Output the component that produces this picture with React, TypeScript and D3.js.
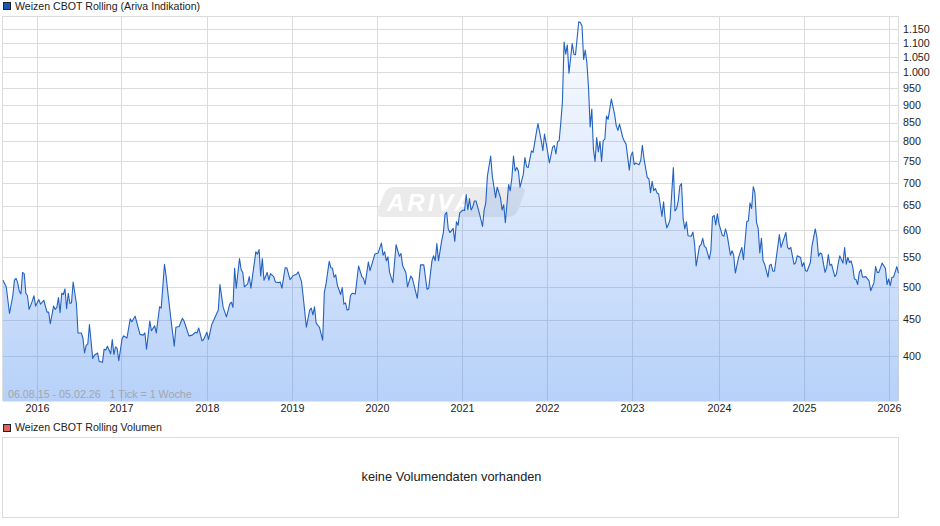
import React from "react";
import * as d3 from "d3";

// [week since 06.08.15, price]
const seg2015to2017: [number, number][] = [[0,511],[2,500],[4,459],[6,486],[7,511],[8,514],[9,507],[10,493],[11,489],[12,524],[13,522],[14,490],[15,486],[16,465],[18,478],[19,486],[20,470],[22,480],[23,473],[25,479],[27,461],[28,461],[29,444],[31,470],[32,465],[33,468],[34,483],[35,460],[36,490],[37,488],[38,497],[39,466],[40,490],[41,474],[42,475],[43,508],[45,474],[46,431],[48,431],[49,424],[50,404],[51,414],[52,416],[53,443],[55,397],[56,401],[58,404],[59,393],[61,392],[62,409],[63,408],[64,413],[66,403],[67,422],[68,402],[69,412],[70,410],[71,394],[73,423],[74,427],[76,424],[78,451],[79,447],[81,455],[84,429],[86,428],[87,431],[88,409],[90,448],[91,434],[93,441],[94,431],[96,469],[97,467],[99,538],[100,518],[101,493],[103,450],[105,413],[106,439],[108,440],[110,452],[111,448],[114,427],[116,428],[118,432],[119,431],[120,438],[122,420],[123,422],[125,432],[126,422],[128,443]];
const seg2018to2019: [number, number][] = [[132,464],[133,504],[135,468],[137,454],[139,473],[140,476],[141,468],[142,531],[143,498],[145,548],[146,529],[147,524],[148,500],[150,505],[151,517],[152,498],[155,560],[156,556],[157,564],[158,518],[159,548],[160,511],[162,524],[163,511],[164,522],[166,517],[167,508],[169,507],[170,508],[171,498],[173,532],[174,532],[176,512],[178,519],[180,521],[181,525],[183,509],[184,486],[186,439],[188,464],[189,467],[190,457],[191,469],[192,445],[194,439],[195,430],[196,421]];
const seg2019to2021: [number, number][] = [[197,491],[198,504],[200,543],[201,532],[202,531],[203,516],[204,520],[205,503],[207,488],[208,499],[209,473],[210,475],[211,464],[212,465],[213,486],[214,490],[216,489],[218,535],[220,517],[221,514],[222,504],[224,542],[225,527],[228,556],[230,558],[232,576],[233,554],[234,560],[235,544],[236,551],[237,524],[239,507],[241,573],[243,552],[244,557],[245,536],[247,524],[248,500],[250,518],[251,514],[254,482],[256,537],[258,537],[260,496],[261,498],[263,544],[264,553],[265,544],[266,575],[267,544],[269,581],[270,596],[271,632],[272,636],[273,603],[274,596],[276,604],[277,579],[278,617],[279,610],[280,635],[282,641],[283,640],[284,674],[285,641],[286,665],[287,641],[288,647],[289,660],[290,660],[292,635],[293,622],[294,608],[295,641],[296,656],[297,715],[299,763],[300,715],[302,667],[303,690],[305,667],[306,641],[307,652],[308,615],[310,696],[311,682],[312,711],[313,763],[314,727],[315,735],[316,727],[317,690],[319,719],[320,759],[321,737],[322,735],[324,776],[325,772],[327,823],[328,847],[330,802],[331,776],[332,819],[334,772],[335,746],[337,785],[338,789],[339,768],[340,799],[341,802]];
const seg2022to2023: [number, number][] = [[342,850],[343,910],[344,1102],[345,1060],[346,1092],[347,997],[349,1097],[350,1060],[351,1058],[353,1177],[354,1174],[355,1160],[356,1042],[357,1074],[358,1030],[359,950],[360,838],[361,888],[362,780],[363,750],[364,810],[365,773],[366,800],[367,750],[368,802],[369,806],[370,868],[371,859],[373,917],[375,872],[376,841],[377,829],[378,846],[380,810],[381,800],[382,793],[384,729],[385,764],[386,773],[387,742],[388,746],[390,742],[391,752],[392,790],[393,756],[395,712],[396,709],[397,678],[398,703],[399,682],[400,687],[401,677],[402,675],[404,628],[405,658],[406,622],[407,605],[408,612],[409,622],[411,735],[412,639],[413,644],[414,660],[415,693],[416,698],[417,624],[418,603],[419,617],[420,590],[422,589],[423,597],[424,575],[425,535]];
const seg2024to2026: [number, number][] = [[427,570],[428,573],[429,585],[430,570],[431,568],[433,547],[434,562],[435,627],[436,630],[437,611],[438,633],[439,613],[441,591],[442,589],[443,603],[444,591],[446,554],[447,562],[448,554],[449,523],[451,550],[453,568],[454,546],[456,617],[457,619],[458,656],[459,644],[460,691],[461,678],[462,616],[463,604],[464,558],[465,585],[466,544],[467,538],[469,516],[470,536],[471,538],[472,526],[473,526],[476,592],[477,568],[480,596],[481,568],[482,565],[483,568],[485,538],[486,541],[487,553],[489,550],[490,534],[491,541],[492,527],[493,526],[495,541],[496,571],[498,603],[499,587],[500,552],[501,558],[502,556],[504,524],[505,532],[506,555],[507,536],[508,538],[510,517],[511,521],[512,538],[513,553],[515,540],[516,568],[517,538],[518,550],[519,541],[520,544],[521,533],[522,513],[523,512],[524,504],[525,524],[526,529],[527,516],[529,517],[531,510],[532,494],[534,507],[535,534],[536,524],[537,524],[539,540],[541,531],[542,504],[543,513],[544,502],[545,516],[546,516],[548,534],[549,523]];

const priceTicks = [400, 450, 500, 550, 600, 650, 700, 750, 800, 850, 900, 950, 1000, 1050, 1100, 1150];
const yearLabels = [2016, 2017, 2018, 2019, 2020, 2021, 2022, 2023, 2024, 2025, 2026];
const yearTickWeeks = [21.2, 72.7, 125.4, 177.5, 229.6, 281.7, 333.8, 386, 439.3, 491.4, 543.5];
const START = new Date(2015, 7, 6);
const END = new Date(2026, 1, 5);
const rows = [...seg2015to2017, ...seg2018to2019, ...seg2019to2021, ...seg2022to2023, ...seg2024to2026];
const FONT = "'Liberation Sans', Arial, sans-serif";

export default function App() {
  const x = d3.scaleTime().domain([START, END]).range([3, 896.8]);
  const y = d3.scaleLog().domain([346, 1199]).range([401, 16]);
  const dateOf = (w: number) => new Date(START.getTime() + w * 7 * 864e5);
  const line = d3.line<[number, number]>().x((d) => x(dateOf(d[0]))).y((d) => y(d[1]));
  const area = d3.area<[number, number]>().x((d) => x(dateOf(d[0]))).y0(401.5).y1((d) => y(d[1]));
  const fmt = (v: number) => (v >= 1000 ? d3.format(",")(v).replace(",", ".") : String(v));
  const yearX = (i: number) => Math.round(x(dateOf(yearTickWeeks[i])) - 0.5) + 0.5;
  return (
    <svg width={940} height={526} viewBox="0 0 940 526"
      style={{ position: "absolute", left: 0, top: 0, background: "#fff" }} fontFamily={FONT}>
      <defs>
        <linearGradient id="fill" x1="0" y1="16" x2="0" y2="401" gradientUnits="userSpaceOnUse">
          <stop offset="0" stopColor="rgb(60,130,240)" stopOpacity={0.01} />
          <stop offset="1" stopColor="rgb(60,130,240)" stopOpacity={0.37} />
        </linearGradient>
      </defs>
      <rect x={3.5} y={2.5} width={7} height={7} fill="#1a56b4" stroke="#222" strokeWidth={1} />
      <text x={15} y={7} fontSize={10.6} dominantBaseline="middle" fill="#222">Weizen CBOT Rolling (Ariva Indikation)</text>

      <g stroke="#dcdcdc" strokeWidth={1} shapeRendering="crispEdges">
        <line x1={2.5} x2={899} y1={16.5} y2={16.5} />
        <line x1={2.5} x2={2.5} y1={16} y2={401} />
        <line x1={898.5} x2={898.5} y1={16} y2={401} />
        {priceTicks.map((p) => (
          <line key={p} x1={3} x2={899} y1={Math.round(y(p)) + 0.5} y2={Math.round(y(p)) + 0.5} />
        ))}
        {yearLabels.map((t, i) => (
          <line key={t} x1={yearX(i)} x2={yearX(i)} y1={16} y2={401} />
        ))}
      </g>

      <g transform="translate(451 202)">
        <path d="M-58,-15 H68 Q76,-15 73,-8 L67,8 Q64,15 57,15 H-68 Q-76,15 -73,8 L-67,-8 Q-64,-15 -58,-15 Z" fill="#ebebeb" />
        <text x={-64} y={9} fontSize={24} fontWeight="bold" fontStyle="italic" fill="#fff" letterSpacing={3}>ARIVA</text>
      </g>

      <path d={area(rows) ?? ""} fill="url(#fill)" />
      <path d={line(rows) ?? ""} fill="none" stroke="#2462c0" strokeWidth={1.1} strokeLinejoin="round" />

      <g fontSize={10.7} fill="#222">
        {priceTicks.map((p) => (
          <text key={p} x={903} y={y(p) + 1} dominantBaseline="middle">{fmt(p)}</text>
        ))}
        {yearLabels.map((t, i) => (
          <text key={t} x={yearX(i)} y={409.5} textAnchor="middle" dominantBaseline="middle">{t}</text>
        ))}
      </g>
      <text x={8} y={395.5} fontSize={10.7} fill="#a3a6ab" dominantBaseline="middle" xmlSpace="preserve">06.08.15 - 05.02.26   1 Tick = 1 Woche</text>

      <rect x={3.5} y={424.5} width={7} height={7} fill="#d9655c" stroke="#222" strokeWidth={1} />
      <text x={15} y={428.5} fontSize={10.6} dominantBaseline="middle" fill="#222">Weizen CBOT Rolling Volumen</text>
      <rect x={2.5} y={437.5} width={896} height={80} fill="#fff" stroke="#dcdcdc" strokeWidth={1} shapeRendering="crispEdges" />
      <text x={451.5} y={478} fontSize={12.8} textAnchor="middle" dominantBaseline="middle" fill="#222">keine Volumendaten vorhanden</text>
    </svg>
  );
}
